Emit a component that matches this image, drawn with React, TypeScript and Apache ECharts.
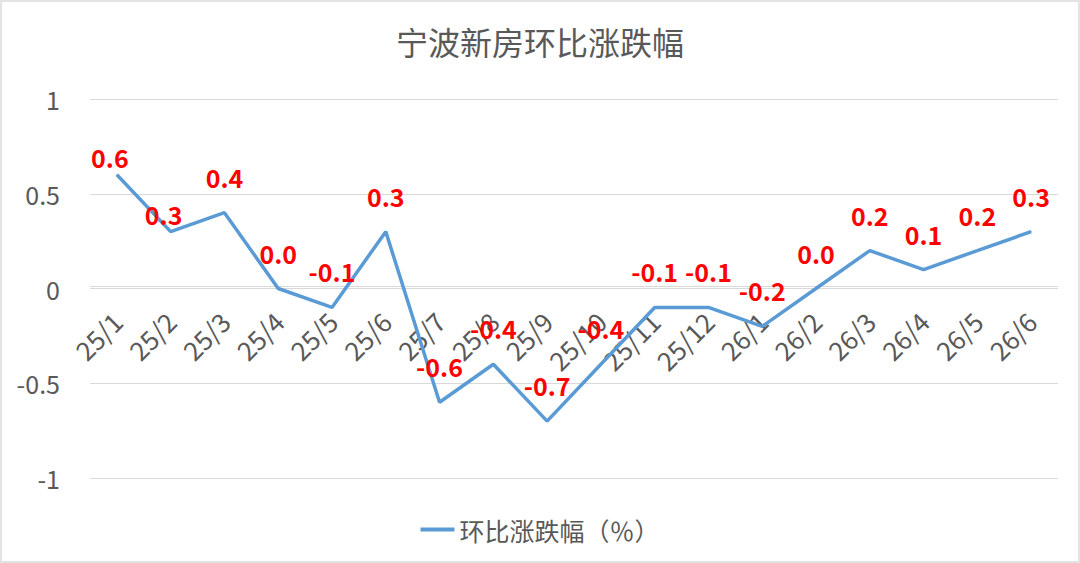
import React, { useEffect, useRef } from "react";
import * as echarts from "echarts";

const categories = ["25/1", "25/2", "25/3", "25/4", "25/5", "25/6", "25/7", "25/8", "25/9", "25/10", "25/11", "25/12", "26/1", "26/2", "26/3", "26/4", "26/5", "26/6"];
const values = [0.6, 0.3, 0.4, 0.0, -0.1, 0.3, -0.6, -0.4, -0.7, -0.4, -0.1, -0.1, -0.2, 0.0, 0.2, 0.1, 0.2, 0.3];
const seriesName = "环比涨跌幅（％）";
const titleText = "宁波新房环比涨跌幅";

const FONT = "'Noto Sans CJK SC', 'Noto Sans', sans-serif";
const GRAY = "#595959";

export default function App() {
  const ref = useRef<HTMLDivElement>(null);
  useEffect(() => {
    document.body.style.margin = "0";
    const chart = echarts.init(ref.current!, undefined, { renderer: "svg" });
    const gridTop = 97;
    const gridBottom = 83;
    const plotH = 563 - gridTop - gridBottom;
    // the first two labels sit closer to their points in the reference
    const closeLabel = { distance: 5, offset: [-7, 0] };
    const seriesData = values.map((v, i) => (i < 2 ? { value: v, label: closeLabel } : v));
    chart.setOption({
      animation: false,
      backgroundColor: "#ffffff",
      textStyle: { fontFamily: FONT },
      title: {
        text: titleText,
        left: "center",
        top: 18,
        textStyle: { fontSize: 32, fontWeight: "normal", color: GRAY, fontFamily: FONT },
      },
      legend: {
        data: [seriesName],
        left: "center",
        top: 510,
        icon: "rect",
        itemWidth: 34,
        itemHeight: 4,
        itemGap: 10,
        textStyle: { fontSize: 25, color: GRAY, fontFamily: FONT },
      },
      grid: { left: 88, right: 20, top: gridTop, bottom: gridBottom, containLabel: false },
      xAxis: {
        type: "category",
        data: categories,
        boundaryGap: true,
        offset: -plotH / 2,
        axisLine: { show: true, onZero: false, lineStyle: { color: "#d9d9d9", width: 1 } },
        axisTick: { show: false },
        axisLabel: { rotate: 45, fontSize: 26, color: GRAY, margin: 30, interval: 0, fontFamily: FONT },
      },
      yAxis: {
        type: "value",
        min: -1,
        max: 1,
        interval: 0.5,
        axisLine: { show: false },
        axisTick: { show: false },
        splitLine: { lineStyle: { color: "#d9d9d9", width: 1 } },
        axisLabel: { fontSize: 25, color: GRAY, margin: 30, fontFamily: FONT },
      },
      series: [
        {
          name: seriesName,
          type: "line",
          data: seriesData,
          showSymbol: true,
          symbol: "circle",
          symbolSize: 1,
          lineStyle: { color: "#5B9BD5", width: 3.5 },
          itemStyle: { color: "#5B9BD5" },
          label: {
            show: true,
            position: "top",
            distance: 23,
            fontSize: 25,
            fontWeight: "bold",
            color: "#FF0000",
            fontFamily: FONT,
            formatter: (p: any) => Number(p.value).toFixed(1),
          },
          z: 3,
        },
      ],
    });
    return () => chart.dispose();
  }, []);
  return (
    <div
      ref={ref}
      style={{
        position: "fixed",
        left: 0,
        top: 0,
        width: 1080,
        height: 563,
        boxSizing: "border-box",
        border: "2px solid #e3e3e3",
        background: "#fff",
      }}
    />
  );
}
